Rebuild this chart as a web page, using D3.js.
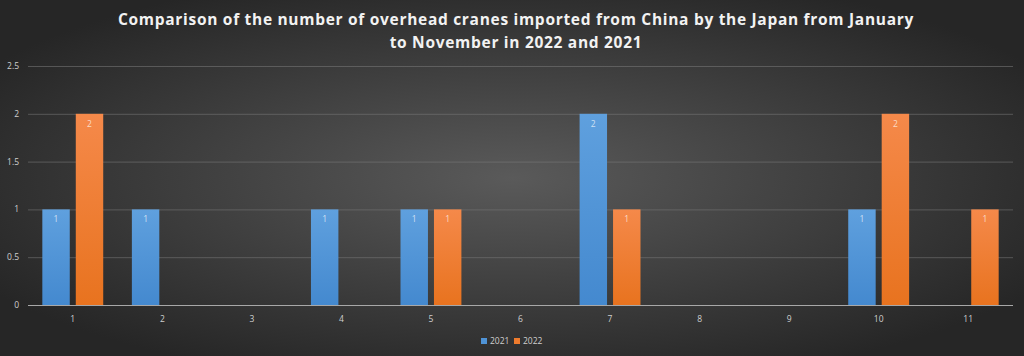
<!DOCTYPE html>
<html><head><meta charset="utf-8">
<script src="https://cdn.jsdelivr.net/npm/d3@7/dist/d3.min.js"></script>
<style>html,body{margin:0;padding:0;background:#2b2b2b;}svg{display:block;}</style>
</head><body>
<svg id="c" width="1024" height="356"></svg>
<script>
const months = ["1","2","3","4","5","6","7","8","9","10","11"];
const series = ["2021","2022"];
const values2021 = [1,1,0,1,1,0,2,0,0,1,0];
const values2022 = [2,0,0,0,1,0,1,0,0,2,1];
const yTicks = [0,0.5,1,1.5,2,2.5];
const yTickLabels = ["0","0.5","1","1.5","2","2.5"];
const titleLines = ["Comparison of the number of overhead cranes imported from China by the Japan from January","to November in 2022 and 2021"];

const W=1024,H=356;
const svg=d3.select("#c");
const defs=svg.append("defs");
const bg=defs.append("radialGradient").attr("id","bg").attr("cx","50%").attr("cy","50%").attr("r","60%")
  .attr("gradientUnits","objectBoundingBox");
bg.append("stop").attr("offset","0%").attr("stop-color","#5a5a5a");
bg.append("stop").attr("offset","100%").attr("stop-color","#262626");
const gb=defs.append("linearGradient").attr("id","gBlue").attr("x1",0).attr("y1",0).attr("x2",0).attr("y2",1);
gb.append("stop").attr("offset","0%").attr("stop-color","#5fa0de");
gb.append("stop").attr("offset","100%").attr("stop-color","#4489cf");
const go=defs.append("linearGradient").attr("id","gOrange").attr("x1",0).attr("y1",0).attr("x2",0).attr("y2",1);
go.append("stop").attr("offset","0%").attr("stop-color","#f5894a");
go.append("stop").attr("offset","100%").attr("stop-color","#e8731f");
const fills={"2021":"url(#gBlue)","2022":"url(#gOrange)"};
const legendColors={"2021":"#4f93d6","2022":"#ee7b2d"};

svg.append("rect").attr("width",W).attr("height",H).attr("fill","url(#bg)");

const pLeft=28,pRight=1013,pTop=66,pBottom=305;
const x0=d3.scaleBand().domain(months).range([pLeft,pRight]).paddingInner(0.32).paddingOuter(0.16);
const x1=d3.scaleBand().domain(series).range([0,x0.bandwidth()]).paddingInner(0.18);
const y=d3.scaleLinear().domain([0,2.5]).range([pBottom,pTop]);

// grid
svg.append("g").selectAll("line").data(yTicks.filter(d=>d>0)).join("line")
  .attr("x1",pLeft).attr("x2",pRight).attr("y1",d=>y(d)+0.5).attr("y2",d=>y(d)+0.5)
  .attr("stroke","#7a7a7a").attr("stroke-opacity",0.55).attr("stroke-width",1);

// y labels
svg.append("g").selectAll("text").data(yTicks).join("text")
  .attr("x",19).attr("y",d=>y(d)).attr("dy","0.35em").attr("text-anchor","end")
  .attr("font-family","Open Sans, sans-serif").attr("font-size",8.5).attr("fill","#cfcfcf")
  .text((d,i)=>yTickLabels[i]);

// bars
const data=months.map((m,i)=>({m,vals:[{s:"2021",v:values2021[i]},{s:"2022",v:values2022[i]}]}));
const groups=svg.append("g").selectAll("g").data(data).join("g").attr("transform",d=>`translate(${x0(d.m)},0)`);
groups.selectAll("rect").data(d=>d.vals.filter(e=>e.v>0)).join("rect")
  .attr("x",d=>x1(d.s)).attr("width",x1.bandwidth())
  .attr("y",d=>y(d.v)).attr("height",d=>y(0)-y(d.v))
  .attr("fill",d=>fills[d.s]);
groups.selectAll("text").data(d=>d.vals.filter(e=>e.v>0)).join("text")
  .attr("x",d=>x1(d.s)+x1.bandwidth()/2).attr("y",d=>y(d.v)+13)
  .attr("text-anchor","middle").attr("font-family","Open Sans, sans-serif").attr("font-size",8.5)
  .attr("fill","#ffffff").attr("fill-opacity",0.7).text(d=>d.v);

// x axis line
svg.append("line").attr("x1",pLeft).attr("x2",pRight).attr("y1",pBottom+0.5).attr("y2",pBottom+0.5)
  .attr("stroke","#a8a8a8").attr("stroke-width",1);
svg.append("g").selectAll("text").data(months).join("text")
  .attr("x",d=>x0(d)+x0.bandwidth()/2).attr("y",319).attr("dy","0.35em").attr("text-anchor","middle")
  .attr("font-family","Open Sans, sans-serif").attr("font-size",8.5).attr("fill","#cfcfcf").text(d=>d);

// title
svg.append("g").selectAll("text").data(titleLines).join("text")
  .attr("x",516).attr("y",(d,i)=>20+i*23).attr("dy","0.35em").attr("text-anchor","middle")
  .attr("font-family","Open Sans, sans-serif").attr("font-weight","bold").attr("font-size",15.5)
  .attr("letter-spacing","0.7px")
  .attr("fill","#f2f2f2").text(d=>d);

// legend
const lg=svg.append("g").attr("transform","translate(481,341)");
const items=lg.selectAll("g").data(series).join("g").attr("transform",(d,i)=>`translate(${i*33},0)`);
items.append("rect").attr("x",0).attr("y",-3).attr("width",6).attr("height",6).attr("fill",d=>legendColors[d]);
items.append("text").attr("x",9).attr("y",0).attr("dy","0.35em")
  .attr("font-family","Open Sans, sans-serif").attr("font-size",8.5).attr("fill","#cfcfcf").text(d=>d);
</script>
</body></html>
